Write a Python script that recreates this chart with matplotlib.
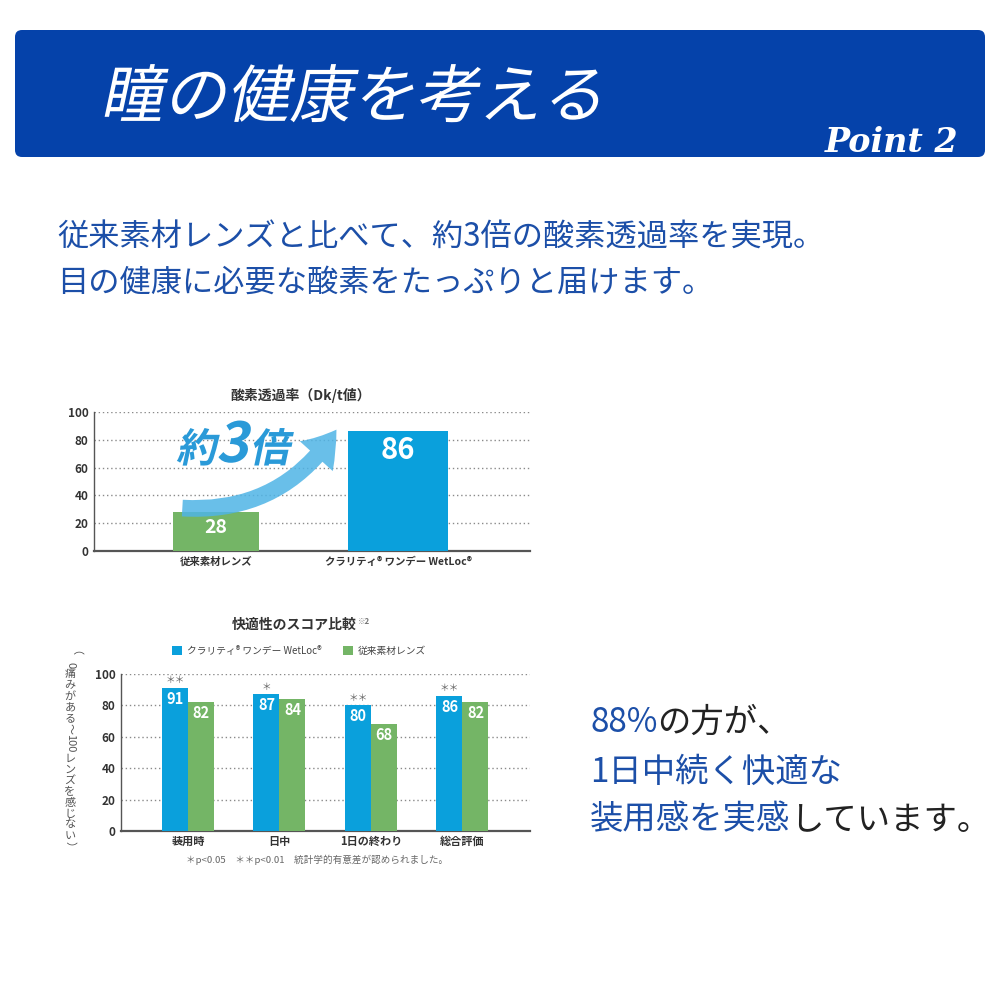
import numpy as np
import matplotlib
matplotlib.use('Agg')
import matplotlib.pyplot as plt
from matplotlib.patches import FancyBboxPatch, FancyArrowPatch, PathPatch
from matplotlib.textpath import TextPath
from matplotlib.font_manager import FontProperties
from matplotlib.transforms import Affine2D

plt.rcParams['font.family'] = ['Noto Sans CJK JP', 'DejaVu Sans']

# data
oxy_labels = ['従来素材レンズ', 'クラリティ® ワンデー WetLoc®']
oxy_values = [28, 86]
comfort_labels = ['装用時', '日中', '1日の終わり', '総合評価']
wetloc_scores = [91, 87, 80, 86]
conventional_scores = [82, 84, 68, 82]
significance = ['＊＊', '＊', '＊＊', '＊＊']
series_names = ['クラリティ® ワンデー WetLoc®', '従来素材レンズ']
yticks = [0, 20, 40, 60, 80, 100]

BLUE = '#0aa0dc'
GREEN = '#74b566'
NAVY = '#0542aa'
TXT = '#1c4fa8'
GRAY = '#333333'

fig = plt.figure(figsize=(10, 10), dpi=100)
# background layer in pixel units (y down)
bg = fig.add_axes([0, 0, 1, 1])
bg.set_xlim(0, 1000)
bg.set_ylim(1000, 0)
bg.axis('off')
renderer = fig.canvas.get_renderer()


def slanted(s, x, y, size, color, weight='normal', skew=12, ax=None, z=5):
    fp = FontProperties(family='Noto Sans CJK JP', weight=weight)
    tp = TextPath((0, 0), s, size=size, prop=fp)
    tr = Affine2D().skew_deg(skew, 0).scale(1, -1).translate(x, y) + bg.transData
    p = PathPatch(tp, transform=tr, fc=color, ec='none', zorder=z, clip_on=False)
    (ax or bg).add_patch(p)
    return x + tp.get_extents().x1


def run(x, y, parts, size):
    for s, c in parts:
        t = bg.text(x, y, s, fontsize=size, color=c, va='center', ha='left')
        x += t.get_window_extent(renderer=renderer).width


# header banner
bg.add_patch(FancyBboxPatch((15, 30), 970, 127, boxstyle='round,pad=0,rounding_size=7',
                            fc=NAVY, ec='none'))
slanted('瞳の健康を考える', 100, 117, 63, 'white')
bg.text(892, 143, 'Point 2', family=['DejaVu Serif'], style='italic', weight='bold',
        fontsize=24, color='white', ha='center', va='center')

bg.text(57, 238, '従来素材レンズと比べて、約3倍の酸素透過率を実現。', fontsize=22.5,
        color=TXT, va='center')
bg.text(57, 283, '目の健康に必要な酸素をたっぷりと届けます。', fontsize=22.5,
        color=TXT, va='center')

run(590, 722, [('88%', TXT), ('の方が、', '#222222')], 24)
run(590, 772, [('1日中続く快適な', TXT)], 24)
run(590, 820, [('装用感を実感', TXT), ('しています。', '#222222')], 24)


def style_axes(ax):
    ax.set_facecolor('none')
    ax.set_ylim(0, 100)
    ax.set_yticks(yticks)
    ax.set_yticklabels([str(v) for v in yticks], fontsize=8.5, weight='bold', color=GRAY)
    ax.yaxis.grid(True, ls=(0, (1, 2)), color='#8a8a8a', lw=1)
    ax.set_axisbelow(True)
    for s in ('top', 'right'):
        ax.spines[s].set_visible(False)
    ax.spines['bottom'].set_color('#555555')
    ax.spines['bottom'].set_linewidth(1.6)
    ax.spines['left'].set_color('#555555')
    ax.spines['left'].set_linewidth(1)
    ax.tick_params(length=0, pad=4)


# chart 1: oxygen transmissibility
ax1 = fig.add_axes([0.094, 0.449, 0.436, 0.139])
style_axes(ax1)
x1 = np.arange(len(oxy_values))
ax1.bar(x1, oxy_values, width=[0.47, 0.545], color=[GREEN, BLUE], zorder=3)
ax1.set_xlim(-0.67, 1.725)
ax1.set_xticks(x1)
ax1.set_xticklabels(oxy_labels, fontsize=7.5, weight='bold', color=GRAY)
for xi, v, fs, off in zip(x1, oxy_values, [14, 21], [11, 13]):
    ax1.text(xi, v - off, str(v), ha='center', va='center', color='white',
             fontsize=fs, weight='bold', zorder=4)
ax1.add_patch(FancyArrowPatch((x1[0] - 0.2, oxy_values[0] + 3), (x1[1] - 0.33, oxy_values[1] + 3),
                              connectionstyle='arc3,rad=0.3',
                              arrowstyle='simple,head_length=24,head_width=32,tail_width=12',
                              mutation_scale=1, color='#4fb4e6', alpha=0.85, lw=0, zorder=4))
xx = slanted('約', 176, 462, 40, '#2a9ad8', weight='bold', ax=ax1, z=6)
xx = slanted('3', xx + 2, 462, 55, '#2a9ad8', weight='bold', ax=ax1, z=6)
slanted('倍', xx + 4, 462, 40, '#2a9ad8', weight='bold', ax=ax1, z=6)
fig.text(0.301, 1 - 0.395, '酸素透過率（Dk/t値）', fontsize=10, weight='bold', color=GRAY,
         ha='center', va='center')

# chart 2: comfort score
ax2 = fig.add_axes([0.121, 0.169, 0.409, 0.157])
style_axes(ax2)
x2 = np.arange(len(comfort_labels))
w = 0.284
b1 = ax2.bar(x2 - w / 2, wetloc_scores, w, color=BLUE, zorder=3)
b2 = ax2.bar(x2 + w / 2, conventional_scores, w, color=GREEN, zorder=3)
ax2.set_xlim(-0.732, 3.738)
ax2.set_xticks(x2)
ax2.set_xticklabels(comfort_labels, fontsize=8, weight='bold', color=GRAY)
ax2.tick_params(axis='x', pad=3)
for xi, a, b, s in zip(x2, wetloc_scores, conventional_scores, significance):
    ax2.text(xi - w / 2, a - 7, str(a), ha='center', va='center', color='white',
             fontsize=10.5, weight='bold', zorder=4)
    ax2.text(xi + w / 2, b - 7, str(b), ha='center', va='center', color='white',
             fontsize=10.5, weight='bold', zorder=4)
    ax2.text(xi - w / 2, a + 5, s, ha='center', va='center', color='#666666', fontsize=7)

fig.legend(handles=[b1, b2], labels=series_names, loc='center', bbox_to_anchor=(0.299, 0.349),
           ncol=2, frameon=False, fontsize=7, handlelength=1.0, handleheight=1.0,
           columnspacing=2.2, handletextpad=0.5, labelcolor='#444444')
fig.text(0.294, 1 - 0.625, '快適性のスコア比較', fontsize=10, weight='bold', color=GRAY,
         ha='center', va='center')
fig.text(0.358, 1 - 0.621, '※2', fontsize=5.5, weight='bold', color='#777777',
         ha='left', va='center')
fig.text(0.317, 1 - 0.860, '＊p<0.05　＊＊p<0.01　統計学的有意差が認められました。',
         fontsize=6.9, color='#666666', ha='center', va='center')

# vertical y label (tategaki)
ylab = [('（', True, 11), ('0', True, 8), ('痛', False, 11), ('み', False, 11),
        ('が', False, 11), ('あ', False, 11), ('る', False, 11), ('～', True, 10),
        ('100', True, 19), ('レ', False, 11), ('ン', False, 11), ('ズ', False, 11),
        ('を', False, 11), ('感', False, 11), ('じ', False, 11), ('な', False, 11),
        ('い', False, 11), ('）', True, 11)]
yy = 650
for s, rot, h in ylab:
    bg.text(70, yy + h / 2, s, rotation=-90 if rot else 0, fontsize=8, color='#555555',
            ha='center', va='center')
    yy += h

fig.savefig('out.png', dpi=100)
